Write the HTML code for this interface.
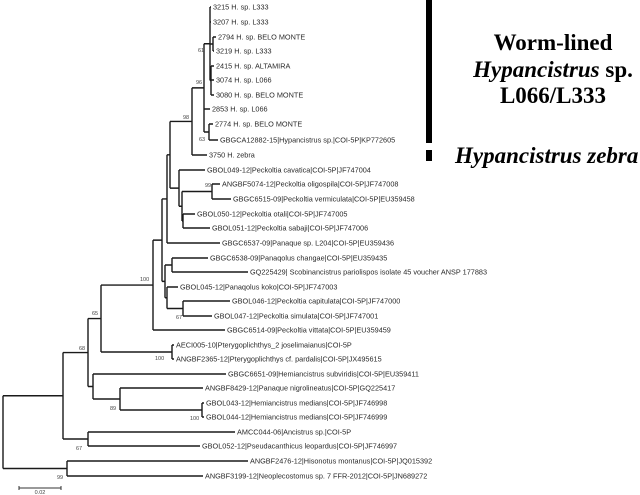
<!DOCTYPE html>
<html><head><meta charset="utf-8"><style>
html,body{margin:0;padding:0;background:#fff;width:640px;height:495px;overflow:hidden}
svg{display:block}
.l{font-family:"Liberation Sans",Arial,sans-serif;font-size:7.3px;fill:#2a2a2a}
.b{font-family:"Liberation Sans",Arial,sans-serif;font-size:5.5px;fill:#444}
.big{font-family:"Liberation Serif","Times New Roman",serif;font-weight:bold;font-size:23px;fill:#000}
</style></head><body>
<svg id="s" width="640" height="495" viewBox="0 0 640 495" xmlns="http://www.w3.org/2000/svg">
<rect x="426" y="0" width="6" height="143" fill="#000"/>
<rect x="426" y="150" width="6" height="11" fill="#000"/>
<text class="big" x="553" y="50" text-anchor="middle">Worm-lined</text>
<text class="big" x="553" y="77" text-anchor="middle"><tspan font-style="italic">Hypancistrus</tspan> sp.</text>
<text class="big" x="553" y="103" text-anchor="middle">L066/L333</text>
<text class="big" x="455" y="163" font-style="italic" font-size="24">Hypancistrus zebra</text>
<line x1="19" y1="488" x2="61" y2="488" stroke="#333" stroke-width="1"/>
<line x1="19" y1="486" x2="19" y2="490" stroke="#333"/>
<line x1="61" y1="486" x2="61" y2="490" stroke="#333"/>
<text class="b" x="40" y="494" text-anchor="middle">0.02</text>
<g id="tree" stroke="#1a1a1a" stroke-width="1.4" fill="none"></g>
<g id="txt"></g>
<text class="b" x="198" y="52">61</text>
<text class="b" x="196" y="84">96</text>
<text class="b" x="183" y="119">98</text>
<text class="b" x="199" y="141">63</text>
<text class="b" x="205" y="187">99</text>
<text class="b" x="140" y="281">100</text>
<text class="b" x="92" y="315">65</text>
<text class="b" x="176" y="319">67</text>
<text class="b" x="79" y="350">68</text>
<text class="b" x="155" y="360">100</text>
<text class="b" x="110" y="410">89</text>
<text class="b" x="190" y="420">100</text>
<text class="b" x="76" y="450">67</text>
<text class="b" x="57" y="479">99</text>
</svg>
<script>
function L(x,y,t){return {x:x,y:y,t:t};}
function N(x,c){return {x:x,c:c};}
var tree=N(3,[
 N(63,[
  N(88,[
   N(101,[
    N(153,[
     N(162,[
      N(167,[
       N(170,[
        N(192,[
         N(204,[
          N(210,[L(211,7,"3215 H. sp. L333"),L(211,22,"3207 H. sp. L333"),
                 N(213,[L(216,37,"2794 H. sp. BELO MONTE"),L(214,51,"3219 H. sp. L333")]),
                 N(211,[L(214,66,"2415 H. sp. ALTAMIRA"),L(214,80,"3074 H. sp. L066"),L(214,95,"3080 H. sp. BELO MONTE")])]),
          L(210,109,"2853 H. sp. L066"),
          N(209,[L(213,124,"2774 H. sp. BELO MONTE"),L(218,140,"GBGCA12882-15|Hypancistrus sp.|COI-5P|KP772605")])]),
         L(207,155,"3750 H. zebra")]),
        N(179,[L(205,170,"GBOL049-12|Peckoltia cavatica|COI-5P|JF747004"),
         N(182,[N(212,[L(220,184,"ANGBF5074-12|Peckoltia oligospila|COI-5P|JF747008"),L(231,199,"GBGC6515-09|Peckoltia vermiculata|COI-5P|EU359458")]),
                N(183,[L(195,214,"GBOL050-12|Peckoltia otali|COI-5P|JF747005"),L(210,228,"GBOL051-12|Peckoltia sabaji|COI-5P|JF747006")])])])]),
       L(220,243,"GBGC6537-09|Panaque sp. L204|COI-5P|EU359436")]),
      N(165,[
       N(172,[L(208,258,"GBGC6538-09|Panaqolus changae|COI-5P|EU359435"),L(248,272,"GQ225429| Scobinancistrus pariolispos isolate 45 voucher ANSP 177883")]),
       N(167,[L(178,287,"GBOL045-12|Panaqolus koko|COI-5P|JF747003"),
        N(183,[L(230,301,"GBOL046-12|Peckoltia capitulata|COI-5P|JF747000"),L(212,316,"GBOL047-12|Peckoltia simulata|COI-5P|JF747001")])])])]),
     L(225,330,"GBGC6514-09|Peckoltia vittata|COI-5P|EU359459")]),
    N(172,[L(174,345,"AECI005-10|Pterygoplichthys_2 joselimaianus|COI-5P"),L(174,359,"ANGBF2365-12|Pterygoplichthys cf. pardalis|COI-5P|JX495615")])]),
   N(93,[L(226,374,"GBGC6651-09|Hemiancistrus subviridis|COI-5P|EU359411"),
    N(120,[L(203,388,"ANGBF8429-12|Panaque nigrolineatus|COI-5P|GQ225417"),
     N(202,[L(204,403,"GBOL043-12|Hemiancistrus medians|COI-5P|JF746998"),L(204,417,"GBOL044-12|Hemiancistrus medians|COI-5P|JF746999")])])])]),
  N(88,[L(235,432,"AMCC044-06|Ancistrus sp.|COI-5P"),L(200,446,"GBOL052-12|Pseudacanthicus leopardus|COI-5P|JF746997")])]),
 N(67,[L(248,461,"ANGBF2476-12|Hisonotus montanus|COI-5P|JQ015392"),L(203,476,"ANGBF3199-12|Neoplecostomus sp. 7 FFR-2012|COI-5P|JN689272")])]);
var d="",txt="";
function esc(s){return s.replace(/&/g,"&amp;").replace(/</g,"&lt;");}
function draw(n){
 if(!n.c){txt+='<text class="l" x="'+(n.x+2)+'" y="'+(n.y+2.5)+'">'+esc(n.t)+'</text>';return n.y;}
 var ys=n.c.map(draw);
 var y0=Math.min.apply(null,ys),y1=Math.max.apply(null,ys);
 d+="M"+n.x+" "+y0+"V"+y1;
 n.c.forEach(function(c,i){d+="M"+n.x+" "+ys[i]+"H"+c.x;});
 n.y=(y0+y1)/2;return n.y;
}
draw(tree);
document.getElementById("tree").innerHTML='<path d="'+d+'"/>';
document.getElementById("txt").innerHTML=txt;
</script>
</body></html>
